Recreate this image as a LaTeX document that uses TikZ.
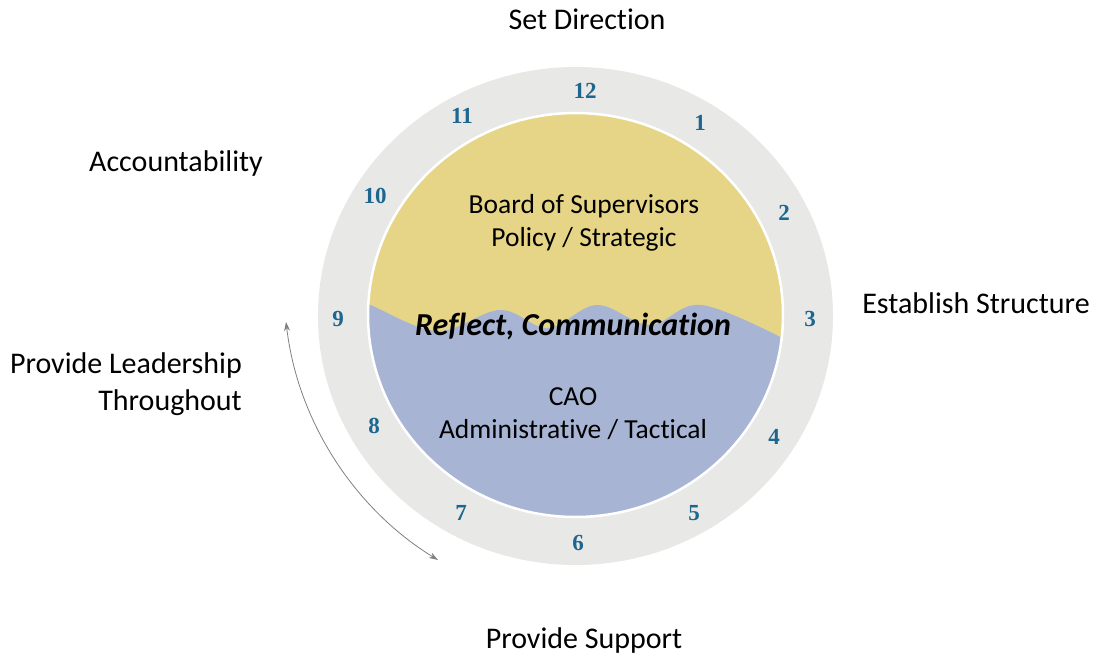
\documentclass[tikz,border=0pt]{standalone}
\usepackage{fontspec}
\setmainfont{Carlito}[Ligatures=CommonOff]
\newfontfamily\numfont{Liberation Serif}
\usetikzlibrary{arrows.meta}
\definecolor{ringgray}{HTML}{E8E8E7}
\definecolor{topyellow}{HTML}{E6D587}
\definecolor{botblue}{HTML}{A7B4D4}
\definecolor{numblue}{HTML}{1D6690}
\definecolor{arcgray}{HTML}{808080}
\begin{document}
\begin{tikzpicture}[x=1pt,y=-1pt,
  outerlab/.style={font=\fontsize{30}{37}\selectfont, inner sep=0pt},
  innerlab/.style={font=\fontsize{27.5}{33}\selectfont, inner sep=0pt, align=center},
  numlab/.style={font=\numfont\bfseries\fontsize{23}{26}\selectfont, text=numblue, inner sep=0pt},
  cyclearrow/.style={arcgray, line width=0.8pt, {Stealth[length=9pt,width=6pt]}-{Stealth[length=9pt,width=6pt]}}]
\useasboundingbox (0,0) rectangle (1094,658);
% ring
\fill[ringgray] (575.5,316) ellipse[x radius=257.5, y radius=249];
% inner disk
\begin{scope}
  \clip (575.5,315) ellipse[x radius=207.5, y radius=202];
  \fill[topyellow] (360,100) rectangle (800,530);
  \fill[botblue] plot[smooth, tension=0.6] coordinates {(350,300) (368,304) (437,331) (500,310) (548,328) (597,305) (650,325) (702,305) (790,342)} -- (800,530) -- (350,530) -- cycle;
\end{scope}
\draw[white, line width=2.5pt] (575.5,315) ellipse[x radius=207.5, y radius=202];
% numbers
\node[numlab] (n12) at (585,91) {12};
\node[numlab] (n1) at (700,123) {1};
\node[numlab] (n2) at (784,213) {2};
\node[numlab] (n3) at (810,319) {3};
\node[numlab] (n4) at (774,437) {4};
\node[numlab] (n5) at (694,513) {5};
\node[numlab] (n6) at (578,543) {6};
\node[numlab] (n7) at (461,513) {7};
\node[numlab] (n8) at (374,426) {8};
\node[numlab] (n9) at (338,319) {9};
\node[numlab] (n10) at (375,196) {10};
\node[numlab] (n11) at (462,116) {11};
% inner texts
\node[innerlab] (board) at (584,223) {Board of Supervisors\\Policy / Strategic};
\node[innerlab] (cao) at (573,414) {CAO\\Administrative / Tactical};
\node[inner sep=0pt, font=\bfseries\itshape\fontsize{32}{34}\selectfont] (reflect) at (573,326) {Reflect, Communication};
% outer labels
\node[outerlab] (setdir) at (587,19) {Set Direction};
\node[outerlab] (account) at (176,164) {Accountability};
\node[outerlab] (establish) at (976,303) {Establish Structure};
\node[outerlab, align=right, anchor=east] (leader) at (242,384) {Provide Leadership\\Throughout};
\node[outerlab] (support) at (584,640) {Provide Support};
% cycle arrow
\coordinate (arcstart) at ({607.6+323.8*cos(173.3)},{284.2+323.8*sin(173.3)});
\draw[cyclearrow] (arcstart) arc[start angle=173.3, end angle=121.6, radius=323.8];
\end{tikzpicture}
\end{document}
